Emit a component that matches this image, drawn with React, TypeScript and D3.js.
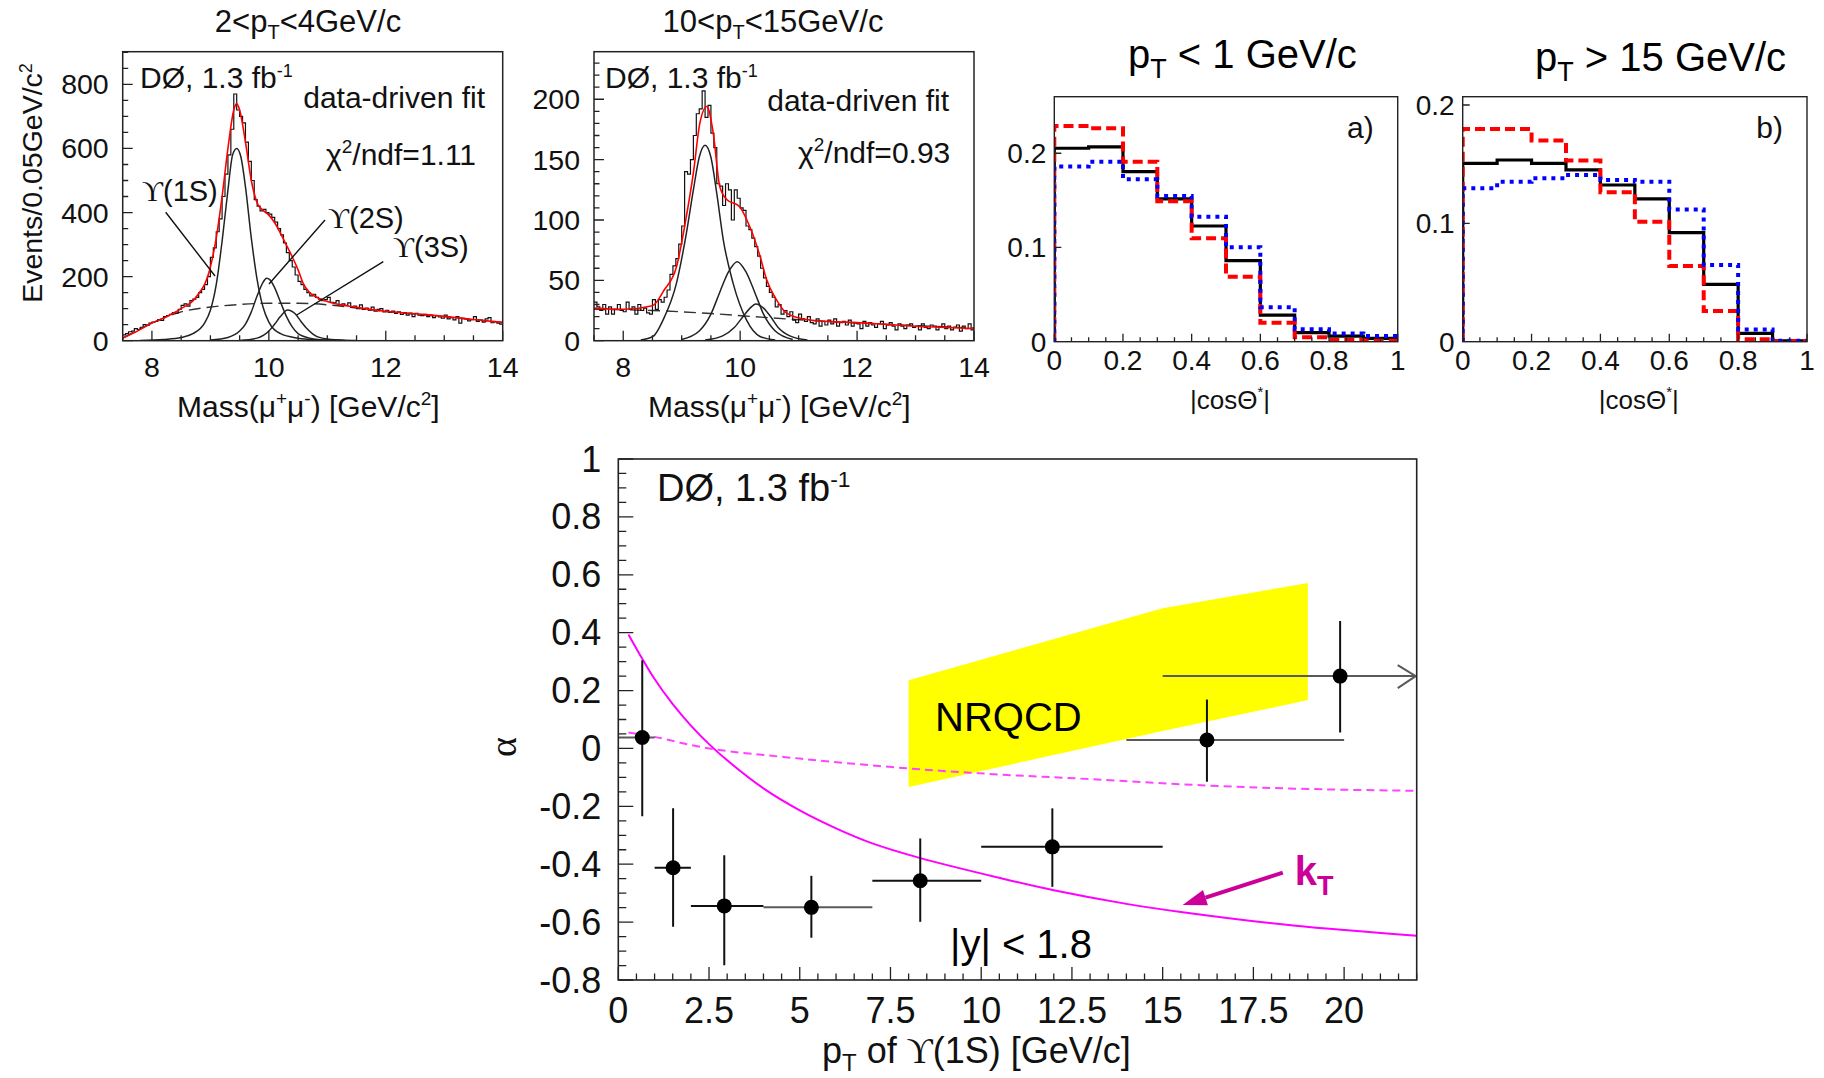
import React from 'react';
import * as d3 from 'd3';

const SANS = "'Liberation Sans', Arial, Helvetica, sans-serif";
const SERIF = "'Liberation Serif', 'DejaVu Serif', serif";

// ---------- Mass panels (binning) ----------
const MASS_MIN = 7.5;
const MASS_MAX = 14;
const MASS_BIN = 0.05;
const massTicksMajor = [8, 10, 12, 14];

// Panel 1: 2 < pT < 4 GeV/c
const counts1 = [
  18, 22, 28, 30, 38, 35, 42, 50, 48, 55,
  58, 60, 66, 63, 75, 78, 82, 88, 86, 98,
  110, 115, 108, 125, 130, 135, 150, 160, 175, 200,
  260, 290, 340, 380, 450, 520, 580, 660, 770, 720,
  700, 680, 620, 560, 500, 440, 420, 405, 410, 400,
  395, 385, 370, 350, 330, 305, 275, 250, 230, 205,
  185, 175, 160, 150, 140, 145, 135, 130, 125, 128,
  135, 120, 118, 125, 112, 115, 110, 118, 105, 108,
  100, 112, 98, 102, 95, 105, 92, 98, 100, 90,
  95, 88, 92, 85, 90, 82, 88, 80, 86, 75,
  85, 80, 78, 82, 75, 80, 72, 78, 74, 70,
  80, 68, 72, 65, 75, 55, 70, 68, 62, 66,
  75, 60, 64, 58, 68, 72, 56, 60, 55, 52,
];
const fitTotal1: [number, number][] = [
  [7.5, 8], [7.75, 30], [8.0, 55], [8.25, 75], [8.5, 100], [8.75, 135], [9.0, 230], [9.1, 320],
  [9.2, 450], [9.3, 600], [9.4, 720], [9.45, 740], [9.5, 720], [9.6, 620], [9.7, 500], [9.8, 430],
  [9.9, 407], [10.0, 392], [10.1, 368], [10.2, 335], [10.3, 298], [10.4, 262], [10.5, 221], [10.6, 174],
  [10.7, 150], [10.8, 137], [11.0, 122], [11.5, 104], [12.0, 92], [12.5, 84], [13.0, 76], [13.5, 66], [14.0, 57],
];
const fit1S_1: [number, number][] = [
  [7.8, 1], [8.2, 4], [8.5, 10], [8.7, 22], [8.9, 55], [9.0, 95], [9.1, 175], [9.2, 310], [9.3, 470],
  [9.38, 580], [9.45, 600], [9.52, 575], [9.6, 480], [9.7, 320], [9.8, 190], [9.9, 105], [10.0, 58],
  [10.2, 22], [10.5, 8], [10.8, 3], [11.3, 0.5],
];
const fit2S_1: [number, number][] = [
  [9.0, 2], [9.3, 10], [9.5, 30], [9.6, 52], [9.7, 90], [9.8, 140], [9.9, 182], [9.96, 195], [10.02, 190],
  [10.1, 165], [10.2, 120], [10.3, 76], [10.4, 43], [10.5, 22], [10.7, 8], [11.0, 2], [11.5, 0.3],
];
const fit3S_1: [number, number][] = [
  [9.5, 1], [9.8, 8], [10.0, 30], [10.1, 52], [10.2, 76], [10.32, 96], [10.45, 84], [10.55, 60],
  [10.65, 38], [10.8, 15], [11.0, 5], [11.3, 1], [11.6, 0.2],
];
const fitBkg1: [number, number][] = [
  [7.5, 8], [8.0, 55], [8.5, 90], [9.0, 105], [9.5, 113], [10.0, 117], [10.5, 117], [11.0, 112],
  [11.5, 102], [12.0, 91], [12.5, 83], [13.0, 75], [13.5, 66], [14.0, 57],
];

// Panel 2: 10 < pT < 15 GeV/c
const counts2 = [
  32, 28, 25, 30, 22, 28, 22, 26, 30, 25,
  24, 32, 26, 28, 22, 30, 25, 27, 23, 22,
  34, 26, 34, 32, 36, 42, 55, 62, 68, 80,
  95, 140, 138, 150, 170, 188, 192, 207, 185, 195,
  172, 160, 130, 128, 112, 130, 125, 100, 125, 118,
  110, 108, 95, 92, 85, 78, 70, 60, 52, 45,
  40, 36, 28, 30, 22, 25, 20, 24, 17, 15,
  22, 18, 16, 20, 15, 14, 18, 12, 16, 13,
  17, 14, 18, 12, 15, 16, 13, 17, 12, 15,
  14, 10, 16, 12, 15, 13, 11, 14, 16, 10,
  13, 15, 12, 9, 14, 12, 10, 13, 14, 11,
  12, 9, 14, 11, 10, 13, 12, 9, 11, 14,
  10, 12, 9, 11, 13, 8, 12, 10, 14, 9,
];
const fitTotal2: [number, number][] = [
  [7.5, 27], [8.0, 26], [8.5, 29], [8.7, 42], [8.91, 61], [9.08, 103], [9.2, 139], [9.31, 180],
  [9.43, 194], [9.54, 172], [9.65, 128], [9.77, 117], [9.99, 111], [10.16, 95], [10.34, 70],
  [10.45, 51], [10.62, 34], [10.79, 23], [11.08, 18], [11.5, 16], [12.0, 15], [12.5, 13.5],
  [13.0, 12], [13.5, 11], [14.0, 10],
];
const fit1S_2: [number, number][] = [
  [8.3, 0.5], [8.51, 3.5], [8.68, 17], [8.91, 47.5], [9.08, 89], [9.2, 125], [9.3, 152], [9.4, 162],
  [9.5, 152], [9.6, 122], [9.71, 84], [9.88, 47.5], [10.11, 17], [10.34, 3.5], [10.6, 0.5],
];
const fit2S_2: [number, number][] = [
  [9.0, 1], [9.3, 8], [9.5, 22], [9.65, 40], [9.8, 57], [9.95, 65.5], [10.1, 57], [10.25, 40],
  [10.4, 22], [10.6, 8], [10.9, 1],
];
const fit3S_2: [number, number][] = [
  [9.4, 0.5], [9.7, 4], [9.9, 11], [10.05, 20], [10.17, 27], [10.27, 30.4], [10.4, 27], [10.52, 20],
  [10.65, 11], [10.85, 4], [11.15, 0.5],
];
const fitBkg2: [number, number][] = [
  [7.5, 26], [8.5, 25], [9.5, 22.5], [10.5, 19], [11.5, 16], [12.5, 13.5], [13.5, 11.5], [14.0, 10.5],
];

// ---------- cos theta panels ----------
const COS_BIN = 0.1;
const cosTicks = [0, 0.2, 0.4, 0.6, 0.8, 1];
const cosA_black = [0.2053, 0.2067, 0.1805, 0.1515, 0.1228, 0.086, 0.0283, 0.0096, 0.006, 0.0035];
const cosA_red = [0.229, 0.2265, 0.191, 0.149, 0.1097, 0.069, 0.02, 0.0046, 0.0017, 0.001];
const cosA_blue = [0.1858, 0.191, 0.1724, 0.1547, 0.1327, 0.1002, 0.0365, 0.0131, 0.0088, 0.006];
const cosB_black = [0.1507, 0.1535, 0.1507, 0.1451, 0.1324, 0.1206, 0.0921, 0.0485, 0.007, 0.0008];
const cosB_red = [0.1797, 0.1797, 0.1699, 0.153, 0.1262, 0.1014, 0.0639, 0.0259, 0.002, 0.0005];
const cosB_blue = [0.1296, 0.1352, 0.138, 0.1408, 0.1366, 0.1352, 0.1118, 0.0648, 0.0104, 0.0008];

// ---------- alpha vs pT ----------
const alphaPt = [0.66, 1.51, 2.92, 5.32, 8.32, 11.96, 16.22, 19.89];
const alphaVal = [0.038, -0.412, -0.544, -0.549, -0.457, -0.34, 0.029, 0.25];
const alphaErrUp = [0.267, 0.205, 0.175, 0.109, 0.146, 0.133, 0.14, 0.19];
const alphaErrDown = [0.272, 0.204, 0.205, 0.105, 0.142, 0.138, 0.144, 0.195];
const alphaBinLo = [0, 1, 2, 4, 7, 10, 14, 15];
const alphaBinHi = [1, 2, 4, 7, 10, 15, 20, 22];
const alphaXBarGray = [true, false, false, true, false, false, true, true];
const kTCurve: [number, number][] = [
  [0.28, 0.394], [0.66, 0.31], [1.0, 0.24], [1.5, 0.153], [2.0, 0.079], [2.5, 0.015], [3.0, -0.041],
  [4.0, -0.138], [5.0, -0.214], [6.0, -0.276], [7.0, -0.328], [8.3, -0.378], [10.5, -0.447],
  [12.0, -0.49], [14.0, -0.537], [15.5, -0.565], [18.6, -0.612], [22.0, -0.647],
];
const dashedCurve: [number, number][] = [
  [0.28, 0.055], [1.0, 0.04], [2.5, 0.0], [5.0, -0.035], [8.0, -0.069], [10.5, -0.09], [13.0, -0.106],
  [16.2, -0.128], [19.0, -0.14], [22.0, -0.1465],
];
const nrqcdUpper: [number, number][] = [[8, 0.236], [15, 0.484], [19, 0.572]];
const nrqcdLower: [number, number][] = [[8, -0.133], [15, 0.06], [19, 0.167]];

type Frame = { x0: number; x1: number; y0: number; y1: number };

function Ticks({ x, y, frame, xMajor, xMinor, yMajor, yMinor, xMajLen, xMinLen, yMajLen, yMinLen }: any) {
  const segs: string[] = [];
  xMinor.forEach((v: number) => {
    const px = x(v);
    segs.push(`M${px},${frame.y1}V${frame.y1 - xMinLen}`);
  });
  xMajor.forEach((v: number) => {
    const px = x(v);
    segs.push(`M${px},${frame.y1}V${frame.y1 - xMajLen}`);
  });
  yMinor.forEach((v: number) => {
    const py = y(v);
    segs.push(`M${frame.x0},${py}H${frame.x0 + yMinLen}`);
  });
  yMajor.forEach((v: number) => {
    const py = y(v);
    segs.push(`M${frame.x0},${py}H${frame.x0 + yMajLen}`);
  });
  return <path d={segs.join('')} stroke="#222" strokeWidth={1.3} fill="none" />;
}

function MassPanel({ frame, yMax, yMajorStep, yMinorStep, yLabelMax, counts, total, c1, c2, c3, bkg, id, children }: any) {
  const x = d3.scaleLinear().domain([MASS_MIN, MASS_MAX]).range([frame.x0, frame.x1]);
  const y = d3.scaleLinear().domain([0, yMax]).range([frame.y1, frame.y0]);
  const pts: [number, number][] = counts.map((c: number, i: number) => [MASS_MIN + i * MASS_BIN, c]);
  pts.push([MASS_MAX, counts[counts.length - 1]]);
  const step = d3.line<[number, number]>().x(d => x(d[0])).y(d => y(d[1])).curve(d3.curveStepAfter);
  const smooth = d3.line<[number, number]>().x(d => x(d[0])).y(d => y(d[1])).curve(d3.curveMonotoneX);
  const yMajor = d3.range(0, yLabelMax + 1e-9, yMajorStep);
  const yMinor = d3.range(0, yMax, yMinorStep);
  const xMinor = d3.range(7.5, 14.001, 0.5);
  return (
    <g>
      <defs>
        <clipPath id={id}><rect x={frame.x0} y={frame.y0} width={frame.x1 - frame.x0} height={frame.y1 - frame.y0} /></clipPath>
      </defs>
      <g clipPath={`url(#${id})`}>
        <path d={smooth(bkg) || ''} fill="none" stroke="#333" strokeWidth={1.4} strokeDasharray="12,6" />
        {[c1, c2, c3].map((c: any, i: number) => (
          <path key={i} d={smooth(c) || ''} fill="none" stroke="#222" strokeWidth={1.5} />
        ))}
        <path d={step(pts) || ''} fill="none" stroke="#111" strokeWidth={1.2} />
        <path d={smooth(total) || ''} fill="none" stroke="#ff0000" strokeWidth={1.6} />
      </g>
      <Ticks x={x} y={y} frame={frame} xMajor={massTicksMajor} xMinor={xMinor} yMajor={yMajor} yMinor={yMinor}
        xMajLen={10} xMinLen={5.5} yMajLen={10} yMinLen={5.5} />
      <rect x={frame.x0} y={frame.y0} width={frame.x1 - frame.x0} height={frame.y1 - frame.y0} fill="none" stroke="#222" strokeWidth={1.5} />
      {yMajor.map((v: number) => (
        <text key={v} x={frame.x0 - 14} y={y(v) + 10} textAnchor="end" fontSize={28.5} fontFamily={SANS} fill="#111">{v}</text>
      ))}
      {massTicksMajor.map((v: number) => (
        <text key={v} x={x(v)} y={377} textAnchor="middle" fontSize={28.5} fontFamily={SANS} fill="#111">{v}</text>
      ))}
      {children}
    </g>
  );
}

function CosPanel({ frame, yMax, yTicks, black, red, blue, id, label }: any) {
  const x = d3.scaleLinear().domain([0, 1]).range([frame.x0, frame.x1]);
  const y = d3.scaleLinear().domain([0, yMax]).range([frame.y1, frame.y0]);
  const mk = (vals: number[]): [number, number][] => {
    const p: [number, number][] = [[0, 0]];
    vals.forEach((v, i) => p.push([i * COS_BIN, v]));
    p.push([1, vals[vals.length - 1]]);
    return p;
  };
  const step = d3.line<[number, number]>().x(d => x(d[0])).y(d => y(d[1])).curve(d3.curveStepAfter);
  const xMinor = d3.range(0, 1.0001, 0.05);
  return (
    <g>
      <defs>
        <clipPath id={id}><rect x={frame.x0} y={frame.y0} width={frame.x1 - frame.x0} height={frame.y1 - frame.y0} /></clipPath>
      </defs>
      <g clipPath={`url(#${id})`}>
        <path d={step(mk(black)) || ''} fill="none" stroke="#000" strokeWidth={3.2} />
        <path d={step(mk(red)) || ''} fill="none" stroke="#ff0000" strokeWidth={4} strokeDasharray="10,5" />
        <path d={step(mk(blue)) || ''} fill="none" stroke="#0000ff" strokeWidth={4} strokeDasharray="4,5" />
      </g>
      <Ticks x={x} y={y} frame={frame} xMajor={cosTicks} xMinor={xMinor} yMajor={yTicks} yMinor={[]}
        xMajLen={8} xMinLen={4.5} yMajLen={7} yMinLen={4} />
      <rect x={frame.x0} y={frame.y0} width={frame.x1 - frame.x0} height={frame.y1 - frame.y0} fill="none" stroke="#222" strokeWidth={1.4} />
      {[0, ...yTicks].map((v: number) => (
        <text key={v} x={frame.x0 - 8} y={y(v) + 10} textAnchor="end" fontSize={28} fontFamily={SANS} fill="#111">{v}</text>
      ))}
      {cosTicks.map((v: number) => (
        <text key={v} x={x(v)} y={370} textAnchor="middle" fontSize={28} fontFamily={SANS} fill="#111">{v}</text>
      ))}
      <text x={(frame.x0 + frame.x1) / 2 + 4} y={409} textAnchor="middle" fontSize={26} fontFamily={SANS} fill="#111">
        |cosΘ<tspan dy={-12} fontSize={15}>*</tspan><tspan dy={12}>|</tspan>
      </text>
      <text x={frame.x1 - 24} y={138} textAnchor="end" fontSize={30} fontFamily={SANS} fill="#111">{label}</text>
    </g>
  );
}

function UpsLabel({ x, y, s }: any) {
  return (
    <text x={x} y={y} fontSize={29} fontFamily={SANS} fill="#111">
      <tspan fontFamily={SERIF}>ϒ</tspan>({s})
    </text>
  );
}

function MassTitle({ x, y }: any) {
  return (
    <text x={x} y={y} fontSize={30} fontFamily={SANS} fill="#111">
      Mass(μ<tspan dy={-12} fontSize={19}>+</tspan><tspan dy={12}>μ</tspan><tspan dy={-12} fontSize={19}>-</tspan>
      <tspan dy={12}>) [GeV/c</tspan><tspan dy={-12} fontSize={19}>2</tspan><tspan dy={12}>]</tspan>
    </text>
  );
}

function D0Label({ x, y, size }: any) {
  return (
    <text x={x} y={y} fontSize={size} fontFamily={SANS} fill="#111">
      DØ, 1.3 fb<tspan dy={-size * 0.38} fontSize={size * 0.6}>-1</tspan>
    </text>
  );
}

function MainPlot() {
  const frame: Frame = { x0: 618.3, x1: 1416.7, y0: 459, y1: 980 };
  const x = d3.scaleLinear().domain([0, 22]).range([frame.x0, frame.x1]);
  const y = d3.scaleLinear().domain([-0.8, 1]).range([frame.y1, frame.y0]);
  const smooth = d3.line<[number, number]>().x(d => x(d[0])).y(d => y(d[1])).curve(d3.curveCatmullRom);
  const band = d3.area<number>()
    .x(i => x(nrqcdUpper[i][0]))
    .y0(i => y(nrqcdLower[i][1]))
    .y1(i => y(nrqcdUpper[i][1]));
  const xMajor = d3.range(0, 22.001, 2.5);
  const xMinor = d3.range(0, 22.001, 0.5);
  const yMajor = d3.range(-0.8, 1.0001, 0.2).map(v => Math.round(v * 10) / 10);
  const yMinor = d3.range(-0.8, 1.0001, 0.05);
  // kT arrow (data coords)
  const arTail = [18.31, -0.429];
  const arTip = [15.55, -0.541];
  const tx = x(arTail[0]), ty = y(arTail[1]), hx = x(arTip[0]), hy = y(arTip[1]);
  const ang = Math.atan2(hy - ty, hx - tx);
  const hl = 24, hw = 8;
  const bx = hx - hl * Math.cos(ang), by = hy - hl * Math.sin(ang);
  const head = `M${hx},${hy}L${bx + hw * Math.sin(ang)},${by - hw * Math.cos(ang)}L${bx - hw * Math.sin(ang)},${by + hw * Math.cos(ang)}Z`;
  const last = alphaPt.length - 1;
  return (
    <g>
      <defs>
        <clipPath id="mainclip"><rect x={frame.x0} y={frame.y0} width={frame.x1 - frame.x0} height={frame.y1 - frame.y0} /></clipPath>
      </defs>
      <g clipPath="url(#mainclip)">
        <path d={band(d3.range(nrqcdUpper.length)) || ''} fill="#ffff00" stroke="none" />
        <path d={smooth(dashedCurve) || ''} fill="none" stroke="#ff44ff" strokeWidth={2} strokeDasharray="8,5" />
        <path d={smooth(kTCurve) || ''} fill="none" stroke="#ff00ff" strokeWidth={2} />
        {alphaPt.map((p, i) => (
          <g key={i}>
            <line x1={x(alphaBinLo[i])} x2={x(alphaBinHi[i])} y1={y(alphaVal[i])} y2={y(alphaVal[i])}
              stroke={alphaXBarGray[i] ? '#5a5a5a' : '#111'} strokeWidth={2} />
            <line x1={x(p)} x2={x(p)} y1={y(alphaVal[i] + alphaErrUp[i])} y2={y(alphaVal[i] - alphaErrDown[i])}
              stroke="#111" strokeWidth={2} />
            <circle cx={x(p)} cy={y(alphaVal[i])} r={7.5} fill="#000" />
          </g>
        ))}
        <path d={`M${frame.x1 - 19},${y(alphaVal[last]) - 11}L${frame.x1 - 1},${y(alphaVal[last])}L${frame.x1 - 19},${y(alphaVal[last]) + 12}`}
          fill="none" stroke="#5a5a5a" strokeWidth={2} />
      </g>
      <line x1={tx} y1={ty} x2={bx} y2={by} stroke="#cc0099" strokeWidth={4} />
      <path d={head} fill="#cc0099" />
      <Ticks x={x} y={y} frame={frame} xMajor={xMajor} xMinor={xMinor} yMajor={yMajor} yMinor={yMinor}
        xMajLen={13} xMinLen={6.5} yMajLen={15} yMinLen={8} />
      <rect x={frame.x0} y={frame.y0} width={frame.x1 - frame.x0} height={frame.y1 - frame.y0} fill="none" stroke="#222" strokeWidth={1.6} />
      {yMajor.map(v => (
        <text key={v} x={frame.x0 - 17} y={y(v) + 12.5} textAnchor="end" fontSize={36} fontFamily={SANS} fill="#111">{v}</text>
      ))}
      {xMajor.filter(v => v <= 20).map(v => (
        <text key={v} x={x(v)} y={1023} textAnchor="middle" fontSize={36} fontFamily={SANS} fill="#111">{v}</text>
      ))}
      <text x={822} y={1063} fontSize={36} fontFamily={SANS} fill="#111">
        p<tspan dy={8} fontSize={24}>T</tspan><tspan dy={-8}> of </tspan><tspan fontFamily={SERIF}>ϒ</tspan>(1S) [GeV/c]
      </text>
      <text transform="translate(516,747) rotate(-90)" textAnchor="middle" fontSize={38} fontFamily={SERIF} fill="#111">α</text>
      <D0Label x={657} y={501} size={38} />
      <text x={935} y={731} fontSize={40} fontFamily={SANS} fill="#000">NRQCD</text>
      <text x={950} y={958} fontSize={40} fontFamily={SANS} fill="#000">|y| &lt; 1.8</text>
      <text x={x(18.64)} y={y(-0.4717)} fontSize={40} fontWeight="bold" fontFamily={SANS} fill="#cc0099">
        k<tspan dy={10} fontSize={27}>T</tspan>
      </text>
    </g>
  );
}

export default function App() {
  const f1: Frame = { x0: 122.7, x1: 502.7, y0: 51.7, y1: 340.7 };
  const f2: Frame = { x0: 594, x1: 974, y0: 51.7, y1: 340.7 };
  const fa: Frame = { x0: 1054.3, x1: 1397.7, y0: 96.7, y1: 341.7 };
  const fb: Frame = { x0: 1462.7, x1: 1807, y0: 96.7, y1: 341.7 };
  return (
    <svg width={1824} height={1078} style={{ position: 'absolute', left: 0, top: 0, background: '#fff' }}
      xmlns="http://www.w3.org/2000/svg">
      <rect width={1824} height={1078} fill="#fff" />
      {/* Panel 1 */}
      <MassPanel id="c1" frame={f1} yMax={902} yMajorStep={200} yMinorStep={50} yLabelMax={800}
        counts={counts1} total={fitTotal1} c1={fit1S_1} c2={fit2S_1} c3={fit3S_1} bkg={fitBkg1}>
        <text x={308} y={32} textAnchor="middle" fontSize={31} fontFamily={SANS} fill="#111">
          {'2<p'}<tspan dy={7} fontSize={20}>T</tspan><tspan dy={-7}>{'<4GeV/c'}</tspan>
        </text>
        <D0Label x={140} y={88} size={30} />
        <text x={485} y={108} textAnchor="end" fontSize={30} fontFamily={SANS} fill="#111">data-driven fit</text>
        <text x={326} y={165} fontSize={30} fontFamily={SANS} fill="#111">
          χ<tspan dy={-12} fontSize={19}>2</tspan><tspan dy={12}>/ndf=1.11</tspan>
        </text>
        <UpsLabel x={142} y={201} s="1S" />
        <UpsLabel x={328} y={228} s="2S" />
        <UpsLabel x={393} y={257} s="3S" />
        <path d="M165.7,212.3L215,276M325,220L269,284M383.3,261.7L296.7,315" stroke="#111" strokeWidth={1.4} fill="none" />
        <text transform="translate(42,183) rotate(-90)" textAnchor="middle" fontSize={28.5} fontFamily={SANS} fill="#111">
          Events/0.05GeV/c<tspan dy={-10} fontSize={18}>2</tspan>
        </text>
        <MassTitle x={177} y={417} />
      </MassPanel>
      {/* Panel 2 */}
      <MassPanel id="c2" frame={f2} yMax={239.4} yMajorStep={50} yMinorStep={10} yLabelMax={200}
        counts={counts2} total={fitTotal2} c1={fit1S_2} c2={fit2S_2} c3={fit3S_2} bkg={fitBkg2}>
        <text x={773} y={32} textAnchor="middle" fontSize={31} fontFamily={SANS} fill="#111">
          {'10<p'}<tspan dy={7} fontSize={20}>T</tspan><tspan dy={-7}>{'<15GeV/c'}</tspan>
        </text>
        <D0Label x={605} y={88} size={30} />
        <text x={949} y={111} textAnchor="end" fontSize={30} fontFamily={SANS} fill="#111">data-driven fit</text>
        <text x={798} y={163} fontSize={30} fontFamily={SANS} fill="#111">
          χ<tspan dy={-12} fontSize={19}>2</tspan><tspan dy={12}>/ndf=0.93</tspan>
        </text>
        <MassTitle x={648} y={417} />
      </MassPanel>
      {/* Panel a */}
      <CosPanel id="ca" frame={fa} yMax={0.26} yTicks={[0.1, 0.2]} black={cosA_black} red={cosA_red} blue={cosA_blue} label="a)" />
      <text x={1128} y={68} fontSize={40} fontFamily={SANS} fill="#000">
        p<tspan dy={10} fontSize={27}>T</tspan><tspan dy={-10}>{' < 1 GeV/c'}</tspan>
      </text>
      {/* Panel b */}
      <CosPanel id="cb" frame={fb} yMax={0.207} yTicks={[0.1, 0.2]} black={cosB_black} red={cosB_red} blue={cosB_blue} label="b)" />
      <text x={1535} y={71} fontSize={40} fontFamily={SANS} fill="#000">
        p<tspan dy={10} fontSize={27}>T</tspan><tspan dy={-10}>{' > 15 GeV/c'}</tspan>
      </text>
      <MainPlot />
    </svg>
  );
}
